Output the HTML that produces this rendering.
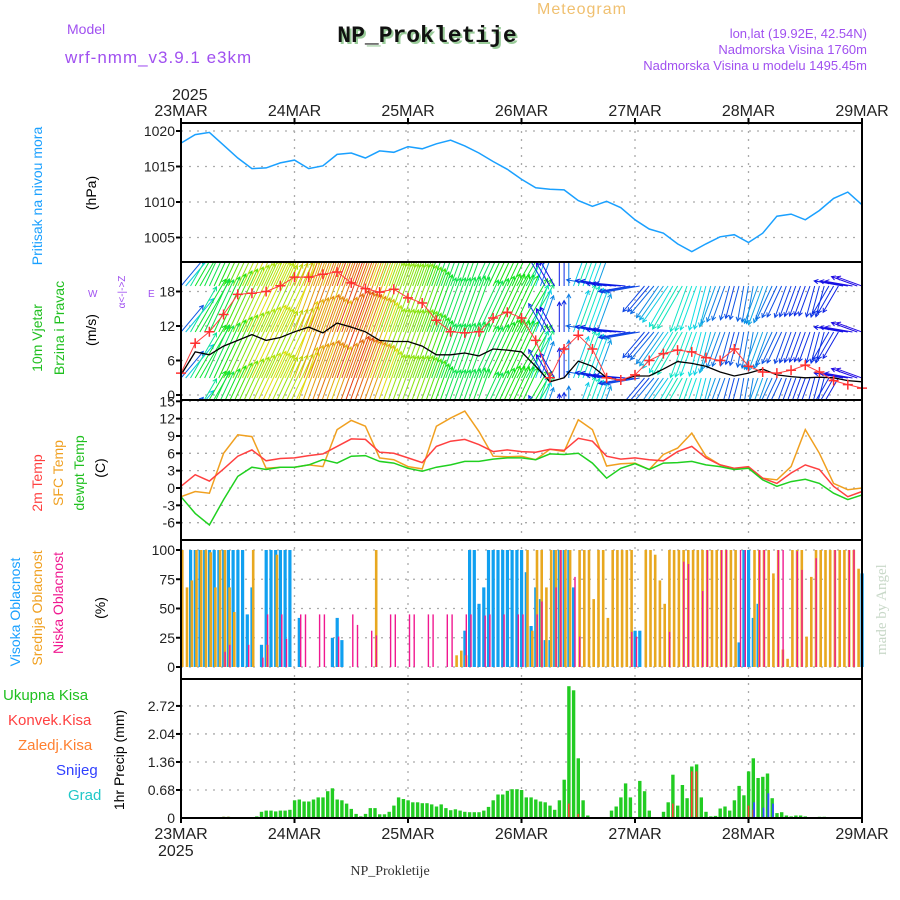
<!DOCTYPE html>
<html><head><meta charset="utf-8"><style>
html,body{margin:0;padding:0;background:#fff;}
svg{display:block;font-family:"Liberation Sans",sans-serif;}
</style></head><body>
<svg id="chart" width="900" height="900" viewBox="0 0 900 900" xmlns="http://www.w3.org/2000/svg">
<defs><clipPath id="windclip"><rect x="181" y="262" width="681" height="138"/></clipPath></defs>
<rect width="900" height="900" fill="#fff"/>
<text x="582" y="14" fill="#f0c070" font-size="16" text-anchor="middle" letter-spacing="1">Meteogram</text>
<text x="67" y="34" fill="#a050f0" font-size="14">Model</text>
<text x="65" y="63" fill="#a050f0" font-size="17" letter-spacing="1">wrf-nmm_v3.9.1 e3km</text>
<text x="427" y="42" fill="#111" font-family="Liberation Mono, monospace" font-weight="bold" font-size="23" text-anchor="middle" style="text-shadow:2px 2px 0 #9c9">NP_Prokletije</text>
<text x="867" y="38" fill="#a050f0" font-size="13" text-anchor="end">lon,lat (19.92E, 42.54N)</text>
<text x="867" y="54" fill="#a050f0" font-size="13" text-anchor="end">Nadmorska Visina 1760m</text>
<text x="867" y="70" fill="#a050f0" font-size="13" text-anchor="end">Nadmorska Visina u modelu 1495.45m</text>
<text x="172" y="100" fill="#222" font-size="16">2025</text>
<text x="390" y="875" fill="#333" font-family="Liberation Serif, serif" font-size="14" text-anchor="middle">NP_Prokletije</text>
<text transform="translate(886,655) rotate(-90)" fill="#c8d8c8" font-family="Liberation Serif, serif" font-size="15">made by Angel</text>
<g id="labels"></g>
<g id="grid"></g>
<g id="marks"></g>
<g id="frame"></g>
</svg>
<script>
// ---- data ----
const days = ["23MAR","24MAR","25MAR","26MAR","27MAR","28MAR","29MAR"];
const pressureTicks = [1005,1010,1015,1020];
const windTicks = [0,6,12,18];
const tempTicks = [-6,-3,0,3,6,9,12,15];
const cloudTicks = [0,25,50,75,100];
const precipTicks = [0,0.68,1.36,2.04,2.72];
// 3-hourly series (h = 0,3,...,144)
const pressure = [1018.3,1019.5,1019.8,1018,1016.2,1014.7,1014.8,1015.5,1015.9,1014.7,1015.1,1016.7,1016.9,1016.2,1017.2,1017,1017.8,1017.5,1018.2,1018.7,1017.9,1016.9,1015.7,1014.6,1013.2,1012,1011.8,1011.7,1010.2,1009.4,1010.1,1009.2,1007.5,1006.2,1005.6,1004.1,1003,1004.1,1005.1,1005.4,1004.3,1005.6,1008,1008.3,1007.5,1008.8,1010.5,1011.4,1009.6];
const windSpeed = [3.5,7.5,7,8.5,9.5,10.5,9.5,10,11,11.8,10.8,12.5,11.8,11,9.5,9.3,9.3,8.5,7,7,7.3,6.8,8,7.8,7.5,5,2.3,3,5.9,5,3,2.6,3.3,3.3,4.5,5.8,5.5,5,4,3.3,3.8,4.5,3.5,3.2,3,3.1,3,2.5,2.3];
const windGust = [3.8,9,11,14,17.5,17.7,18,19,20.5,20.5,21,21.4,19.5,18.5,17.9,18.4,16.9,16,13,11,10.8,11,13.4,14.4,13.4,9.5,3,8,10.4,8,3,2.6,3.5,6,7.2,7.8,7.5,6.5,6,8,5,4,3.8,4.3,5.2,4,2.5,1.8,1.2];
const windDir = [220,210,205,205,205,205,205,205,200,200,200,200,200,200,200,200,200,200,200,200,200,205,205,205,210,200,150,180,200,200,100,95,80,40,35,30,20,15,20,15,10,20,25,20,20,15,30,100,110];
const temp2m = [0.3,2.3,1.2,3.3,5.5,6.6,4.7,5.1,5.2,5.6,5.9,7.2,8.5,8.4,6.2,6,5.2,4.4,7.2,8.1,8.4,7.5,6.3,6.6,6.3,6.2,6.7,6.5,8.6,8.1,5.5,5,5.2,4.9,4.7,6.3,7.2,5.2,4,3.4,3.7,1.7,0.8,2.6,4,3.2,0.3,-1.5,-0.6];
const tempSfc = [-1.5,-0.6,-0.9,6,9.2,8.9,3.4,3.6,3.6,4,3.7,10.1,11.7,10.7,5.2,4.9,3.7,3.3,10.7,12.1,13.3,9.8,5.5,5.4,5.5,4.9,6.7,6.3,11.8,10.1,3.8,4.2,4.3,3.2,5.8,6.9,9.5,5.5,4,3.4,3.4,1.7,1.4,3.7,10.1,6,0.8,-0.3,0];
const dewpt = [-1.5,-4.4,-6.4,-2,2,3.6,3.2,3.6,3.6,4,4.9,4.3,5.5,5.6,4.6,4.3,3.4,2.9,3.6,4,4.6,4.6,5,5.2,5.2,4.9,5.9,5.8,6,4.3,1.7,3.4,4.2,3.2,4.3,4.4,4.6,4,3.7,3.2,3.4,1.4,0.3,1.1,1.5,0.8,-0.9,-2,-1.2];
// hourly cloud cover [hour, %]
const highCloud = [[2,100],[3,100],[4,100],[5,100],[6,100],[7,100],[8,100],[9,100],[10,100],[11,100],[12,100],[13,100],[14,45],[15,68],[17,19],[18,100],[19,100],[20,100],[21,100],[22,100],[23,100],[25,42],[32,25],[33,42],[34,23],[60,31],[61,100],[62,100],[63,54],[64,68],[65,100],[66,100],[67,100],[68,100],[69,100],[70,100],[71,100],[72,100],[73,81],[74,35],[75,68],[76,58],[77,23],[78,23],[79,100],[80,100],[81,100],[82,100],[83,68],[96,31],[97,31],[118,21],[119,100],[120,100],[121,42],[122,54],[144,80]];
const midCloud = [[0,100],[1,68],[2,74],[3,100],[4,100],[5,100],[6,98],[7,68],[8,100],[9,100],[10,68],[11,47],[15,100],[18,19],[20,96],[41,100],[58,10],[59,14],[60,10],[73,100],[74,31],[75,100],[76,100],[77,68],[78,100],[79,100],[80,100],[81,100],[82,100],[84,100],[85,100],[86,100],[87,58],[88,100],[89,100],[90,42],[91,100],[92,100],[93,100],[94,100],[95,100],[98,100],[99,100],[100,96],[101,74],[102,54],[103,100],[104,100],[105,100],[106,100],[107,100],[108,100],[109,100],[110,100],[111,100],[112,100],[113,100],[114,100],[115,100],[116,100],[117,100],[121,100],[122,100],[123,100],[124,100],[125,80],[126,100],[127,15],[128,7],[129,100],[130,100],[131,100],[132,26],[133,77],[134,100],[135,100],[136,100],[137,100],[138,100],[139,100],[140,100],[141,100],[142,100],[143,84]];
const lowCloud = [[9,13],[10,19],[14,19],[17,8],[18,45],[21,45],[22,24],[25,45],[26,45],[29,45],[30,45],[33,26],[36,45],[37,36],[40,31],[41,27],[44,45],[45,45],[48,45],[49,45],[52,45],[53,45],[56,45],[57,45],[60,45],[61,45],[64,44],[65,45],[68,45],[71,45],[72,45],[75,45],[76,56],[79,68],[80,100],[83,77],[84,26],[95,30],[96,26],[103,30],[106,90],[107,88],[110,65],[111,100],[114,100],[115,100],[118,100],[119,100],[122,100],[123,100],[126,100],[127,100],[130,99],[131,83],[134,93],[138,100],[141,100],[142,100]];
// hourly precipitation [hour, mm]
const totalPrecip = [[9,0.03],[10,0.03],[12,0.02],[16,0.04],[17,0.15],[18,0.18],[19,0.18],[20,0.16],[21,0.18],[22,0.18],[23,0.2],[24,0.43],[25,0.45],[26,0.4],[27,0.4],[28,0.45],[29,0.5],[30,0.5],[31,0.65],[32,0.72],[33,0.45],[34,0.43],[35,0.35],[36,0.22],[37,0.1],[38,0.04],[39,0.1],[40,0.24],[41,0.24],[42,0.09],[43,0.09],[44,0.15],[45,0.3],[46,0.5],[47,0.46],[48,0.43],[49,0.38],[50,0.38],[51,0.36],[52,0.36],[53,0.33],[54,0.28],[55,0.33],[56,0.24],[57,0.19],[58,0.21],[59,0.18],[60,0.15],[61,0.14],[62,0.14],[63,0.14],[64,0.18],[65,0.27],[66,0.43],[67,0.57],[68,0.57],[69,0.66],[70,0.7],[71,0.7],[72,0.68],[73,0.5],[74,0.5],[75,0.45],[76,0.4],[77,0.38],[78,0.3],[79,0.2],[80,0.43],[81,0.93],[82,3.2],[83,3.1],[84,1.45],[85,0.43],[86,0.06],[91,0.18],[92,0.28],[93,0.5],[94,0.84],[95,0.5],[97,0.9],[98,0.65],[99,0.18],[102,0.15],[103,0.38],[104,1.05],[105,0.3],[106,0.8],[107,0.48],[108,1.25],[109,1.3],[110,0.5],[111,0.15],[112,0.04],[113,0.05],[114,0.23],[115,0.28],[116,0.18],[117,0.43],[118,0.78],[119,0.55],[120,1.13],[121,1.45],[122,0.97],[123,1.0],[124,1.08],[125,0.48],[126,0.12],[127,0.14],[128,0.06],[129,0.04],[130,0.06],[131,0.06],[132,0.04],[135,0.03],[136,0.03]];
const convPrecip = [[9,0.03],[10,0.03],[82,0.35],[84,0.1],[104,0.35],[108,1.13],[109,1.13],[120,0.3],[121,0.2]];
const snowPrecip = [[121,0.38],[123,0.25],[124,0.6],[125,0.35]];

// ---- scales ----
const X0=181, X1=862, HRS=144;
const xs = h => X0 + h*(X1-X0)/HRS;
const yP = p => 131 + (1020-p)*7.1;
const yW = v => 395 - v*5.75;
const yT = t => 488 - t*5.78;
const yC = c => 667 - c*1.17;
const yR = r => 818 - r*41.2;
const panels = [[123,262],[262,400],[400,540],[540,679],[679,818]];
const NS="http://www.w3.org/2000/svg";
function mk(tag, attrs, parent){const e=document.createElementNS(NS,tag);for(const k in attrs)e.setAttribute(k,attrs[k]);parent.appendChild(e);return e;}
const G=document.getElementById('grid'), M=document.getElementById('marks'), F=document.getElementById('frame'), L=document.getElementById('labels');

function hgrid(ticks, yf, name, fmt){
  ticks.forEach(t=>{
    const y=yf(t);
    const g=mk('line',{x1:X0,x2:X1,y1:y,y2:y,stroke:'#aaa','stroke-dasharray':'2,6','stroke-width':1.3},G);
    
    
    const tk=mk('line',{x1:X0-5,x2:X0,y1:y,y2:y,stroke:'#000','stroke-width':2},F);
    
    
    const tx=mk('text',{x:X0-6,y:y+5,'text-anchor':'end','font-size':14,fill:'#222'},F);
    tx.textContent=fmt?fmt(t):t;
    
    
  });
}
hgrid(pressureTicks,yP,'pressure-axis');
hgrid(windTicks,yW,'wind-axis');
hgrid(tempTicks,yT,'temp-axis');
hgrid(cloudTicks,yC,'cloud-axis');
hgrid(precipTicks.slice(1),yR,'precip-axis',t=>t.toFixed(2));
{const tx=mk('text',{x:X0-6,y:823,'text-anchor':'end','font-size':14,fill:'#222'},F);tx.textContent='0';

}
days.forEach((d,i)=>{
  const x=xs(i*24);
  if(i>0&&i<6){const v=mk('line',{x1:x,x2:x,y1:123,y2:818,stroke:'#aaa','stroke-dasharray':'2,6','stroke-width':1.3},G);
  
  }
  [[118,123],[818,823]].forEach(([a,b])=>{const t=mk('line',{x1:x,x2:x,y1:a,y2:b,stroke:'#000','stroke-width':2},F);
  
  });
  const t1=mk('text',{x:x,y:116,'text-anchor':'middle','font-size':16,fill:'#222'},F);t1.textContent=d;
  
  
  const t2=mk('text',{x:x,y:839,'text-anchor':'middle','font-size':16,fill:'#222'},F);t2.textContent=d;
  
  
});
{const y=mk('text',{x:158,y:856,'font-size':16,fill:'#222'},F);y.textContent='2025';

}
panels.forEach(([a,b])=>{const r=mk('rect',{x:X0,y:a,width:X1-X0,height:b-a,fill:'none',stroke:'#000','stroke-width':2},F);

});

function line(arr, yf, color, name, w, parent){
  const pts=arr.map((v,i)=>xs(i*3).toFixed(1)+','+yf(v).toFixed(1)).join(' ');
  const p=mk('polyline',{points:pts,fill:'none',stroke:color,'stroke-width':w||1.5},parent||M);
  
  
}
line(pressure,yP,'#1aa0ff','pressure-line');
// wind arrows
const WG=mk('g',{'clip-path':'url(#windclip)'},M);


function interp(arr,h){const i=Math.min(Math.floor(h/3),arr.length-2);const f=(h-i*3)/3;return arr[i]*(1-f)+arr[i+1]*f;}
function colr(v){const hue=Math.max(0,Math.min(285,300-v*23));return 'hsl('+hue+',90%,47%)';}
const bases=[286,332,378,424];
for(let h=0;h<=HRS;h++){
  const v=interp(windSpeed,h);
  const i=Math.round(h/3);
  const to=(windDir[i]+180)*Math.PI/180;
  const len=12+6.5*v;
  const dx=Math.sin(to)*len, dy=-Math.cos(to)*len;
  const x=xs(h);
  const c=colr(v);
  bases.forEach(b=>{
    const x2=x+dx,y2=b+dy;
    const a=Math.atan2(dy,dx);
    const d='M'+x.toFixed(1)+','+b+' L'+x2.toFixed(1)+','+y2.toFixed(1)+
      ' M'+(x2-4.5*Math.cos(a-0.5)).toFixed(1)+','+(y2-4.5*Math.sin(a-0.5)).toFixed(1)+' L'+x2.toFixed(1)+','+y2.toFixed(1)+
      ' L'+(x2-4.5*Math.cos(a+0.5)).toFixed(1)+','+(y2-4.5*Math.sin(a+0.5)).toFixed(1);
    const p=mk('path',{d:d,stroke:c,fill:'none','stroke-width':1},WG);
    
    
  });
}
line(windSpeed,yW,'#000','wind-speed-line',1.3);
line(windGust,yW,'#ff4040','wind-gust-line',1);
windGust.forEach((v,i)=>{
  const x=xs(i*3),y=yW(v);
  const c=mk('path',{d:'M'+(x-5)+','+y+' H'+(x+5)+' M'+x+','+(y-5)+' V'+(y+5),stroke:'#ff3030','stroke-width':1.5},M);
  
  
});
line(tempSfc,yT,'#f0a020','sfc-temp-line');
line(temp2m,yT,'#ff4040','2m-temp-line');
line(dewpt,yT,'#20d020','dewpoint-line');
function bars(arr, yf, color, off, w, name){
  arr.forEach(([h,v])=>{
    const y=yf(v);
    const r=mk('rect',{x:(xs(h)+off).toFixed(1),y:y.toFixed(1),width:w,height:Math.max(0.5,yf(0)-y).toFixed(1),fill:color},M);
    
    
  });
}
bars(highCloud,yC,'#10a0f0',-1.5,3.2,'high-cloud-bar');
bars(midCloud,yC,'#e8a820',0,2.6,'mid-cloud-bar');
bars(lowCloud,yC,'#f01890',0.8,1.4,'low-cloud-bar');
bars(totalPrecip,yR,'#22cc22',-1.6,3.4,'total-precip-bar');
bars(convPrecip,yR,'#ff4030',-0.8,1.6,'convective-precip-bar');
bars(snowPrecip,yR,'#3050ff',0,1.8,'snow-precip-bar');

function vlab(txt,x,y,color,size,name){
  const t=mk('text',{transform:'translate('+x+','+y+') rotate(-90)','text-anchor':'middle',fill:color,'font-size':size||14},L);
  t.textContent=txt;
  
  
}
vlab('Pritisak na nivou mora',42,196,'#1aa0ff',14,'pressure-title');
vlab('(hPa)',96,193,'#000',14,'pressure-unit');
vlab('10m Vjetar',42,338,'#20c020',14,'wind-title');
vlab('Brzina i Pravac',64,328,'#20c020',14,'wind-subtitle');
vlab('(m/s)',96,330,'#000',14,'wind-unit');
vlab('α<-|->Z',125,292,'#a050f0',10,'wind-compass');
vlab('2m Temp',42,483,'#ff4040',14,'2m-temp-title');
vlab('SFC Temp',63,473,'#f0a020',14,'sfc-temp-title');
vlab('dewpt Temp',84,473,'#20c020',14,'dewpt-title');
vlab('(C)',105,468,'#000',14,'temp-unit');
vlab('Visoka Oblacnost',20,612,'#1aa0ff',14,'high-cloud-title');
vlab('Srednja Oblacnost',42,608,'#f0a020',14,'mid-cloud-title');
vlab('Niska Oblacnost',63,603,'#f01890',14,'low-cloud-title');
vlab('(%)',105,608,'#000',14,'cloud-unit');
vlab('1hr Precip (mm)',124,760,'#000',14,'precip-title');
[['W',88,297],['E',148,297]].forEach(([s,x,y])=>{const t=mk('text',{x:x,y:y,fill:'#a050f0','font-size':10},L);t.textContent=s;

});
[['Ukupna Kisa',3,700,'#20c020'],['Konvek.Kisa',8,725,'#ff4040'],['Zaledj.Kisa',18,750,'#ff8030'],['Snijeg',56,775,'#3040ff'],['Grad',68,800,'#20c8c8']].forEach(([s,x,y,c])=>{
  const t=mk('text',{x:x,y:y,fill:c,'font-size':15},L);t.textContent=s;
  
  
});
</script>
</body></html>
